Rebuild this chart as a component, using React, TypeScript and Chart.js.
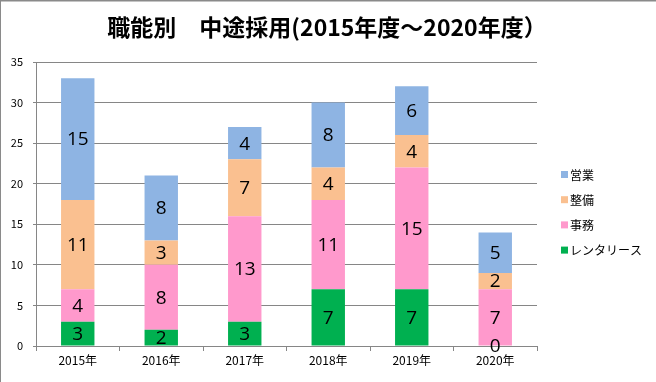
import React, { useEffect, useRef } from "react";
import { Chart, registerables } from "chart.js";

Chart.register(...registerables);

const categories = ["2015年", "2016年", "2017年", "2018年", "2019年", "2020年"];
const seriesNames = ["レンタリース", "事務", "整備", "営業"];
const rentalLease = [3, 2, 3, 7, 7, 0];
const office = [4, 8, 13, 11, 15, 7];
const maintenance = [11, 3, 7, 4, 4, 2];
const sales = [15, 8, 4, 8, 6, 5];
const seriesColors = ["#00B050", "#FF99CC", "#FAC090", "#8EB4E3"];
const yTicks = [0, 5, 10, 15, 20, 25, 30, 35];
const titleText = "職能別　中途採用(2015年度～2020年度）";

const FONT = "'Noto Sans CJK JP', 'Noto Sans', sans-serif";

const decorPlugin = {
  id: "decor",
  beforeDraw(chart: any) {
    const ctx = chart.ctx;
    ctx.save();
    ctx.fillStyle = "#ffffff";
    ctx.fillRect(0, 0, chart.width, chart.height);
    ctx.fillStyle = "#8a8a8a";
    ctx.fillRect(0, 0, chart.width, 1.5);
    ctx.fillRect(0, 0, 1, chart.height);
    ctx.restore();
  },
  afterDraw(chart: any) {
    const ctx = chart.ctx;
    ctx.save();
    // title
    ctx.fillStyle = "#000";
    ctx.font = `bold 23px ${FONT}`;
    ctx.textAlign = "center";
    ctx.textBaseline = "middle";
    ctx.fillText(titleText, 327, 27);
    // data labels
    ctx.font = `19px 'Open Sans', 'Liberation Sans', sans-serif`;
    ctx.fillStyle = "#000";
    chart.data.datasets.forEach((ds: any, i: number) => {
      const meta = chart.getDatasetMeta(i);
      meta.data.forEach((bar: any, j: number) => {
        const v = ds.data[j];
        const yc = (bar.y + bar.base) / 2;
        ctx.fillText(String(v), bar.x, yc + 1);
      });
    });
    // legend (reverse order)
    ctx.font = `12px ${FONT}`;
    ctx.textAlign = "left";
    const n = chart.data.datasets.length;
    for (let k = 0; k < n; k++) {
      const idx = n - 1 - k;
      const y = 175 + k * 25.2;
      ctx.fillStyle = seriesColors[idx];
      ctx.fillRect(561, y - 4, 7, 7);
      ctx.fillStyle = "#000";
      ctx.fillText(seriesNames[idx], 570, y);
    }
    ctx.restore();
  },
};

export default function App() {
  const ref = useRef<HTMLCanvasElement>(null);
  useEffect(() => {
    if (!ref.current) return;
    const data = [rentalLease, office, maintenance, sales];
    const chart = new Chart(ref.current, {
      type: "bar",
      data: {
        labels: categories,
        datasets: data.map((d, i) => ({
          label: seriesNames[i],
          data: d,
          backgroundColor: seriesColors[i],
          borderWidth: 0,
          barPercentage: 0.4,
          categoryPercentage: 1,
        })),
      },
      options: {
        animation: false,
        responsive: false,
        maintainAspectRatio: false,
        layout: { padding: { left: 0, right: 119, top: 62, bottom: 0 } },
        plugins: {
          legend: { display: false },
          title: { display: false },
          tooltip: { enabled: false },
        },
        scales: {
          x: {
            stacked: true,
            afterFit: (s: any) => { s.height = 36; },
            grid: { offset: true, drawOnChartArea: false, tickLength: 5, color: "#868686" },
            border: { color: "#868686" },
            ticks: { color: "#000", font: { size: 12, family: FONT }, padding: 2 },
          },
          y: {
            stacked: true,
            min: 0,
            max: 35,
            afterFit: (s: any) => { s.width = 36; },
            afterBuildTicks: (s: any) => { s.ticks = yTicks.map((v) => ({ value: v })); },
            grid: { color: "#868686", tickLength: 3 },
            border: { color: "#868686" },
            ticks: { color: "#000", font: { size: 11, family: FONT }, padding: 10 },
          },
        },
      },
      plugins: [decorPlugin],
    });
    return () => chart.destroy();
  }, []);
  return (
    <div style={{ position: "fixed", left: 0, top: 0, width: 656, height: 382 }}>
      <canvas ref={ref} width={656} height={382} style={{ display: "block" }} />
    </div>
  );
}
